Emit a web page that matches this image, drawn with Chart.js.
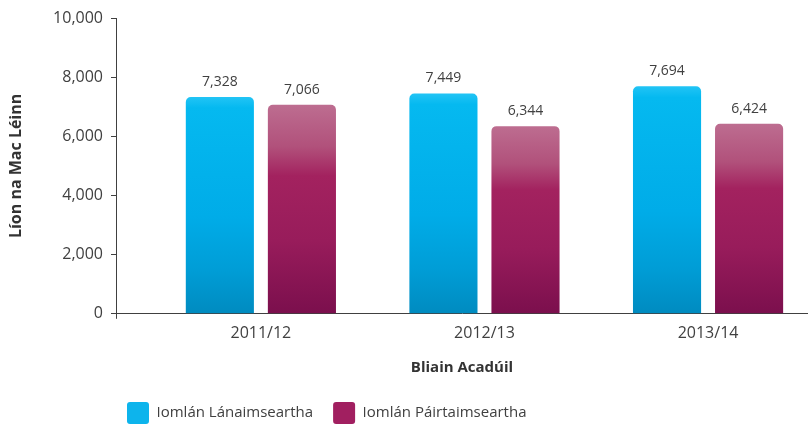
<!DOCTYPE html>
<html>
<head>
<meta charset="utf-8">
<script src="https://cdn.jsdelivr.net/npm/chart.js@4"></script>
<style>
  html, body { margin: 0; padding: 0; background: #fff; }
  #wrap { width: 808px; height: 425px; }
</style>
</head>
<body>
<div id="wrap"><canvas id="chart" width="808" height="425"></canvas></div>
<script>
// Data
const years = ["2011/12", "2012/13", "2013/14"];
const fullTime = [7328, 7449, 7694];
const partTime = [7066, 6344, 6424];
const seriesNames = ["Iomlán Lánaimseartha", "Iomlán Páirtaimseartha"];
const yMax = 10000;
const yStep = 2000;

const FONT = "'Open Sans', 'Noto Sans', sans-serif";
const TEXT = "#404040";
const solids = ["#0db4ec", "#a11f60"];

// vertical gradient per bar, made from the y scale
function barFill(stops, solid) {
    return function (ctx) {
        if (ctx.type !== "data") return solid;
        const y = ctx.chart.scales.y;
        if (!y) return solid;
        const top = y.getPixelForValue(ctx.raw.y);
        const bottom = y.getPixelForValue(0);
        const g = ctx.chart.ctx.createLinearGradient(0, top, 0, bottom);
        stops.forEach(s => g.addColorStop(s[0], s[1]));
        return g;
    };
}

const blueStops = [[0, "#22c4f5"], [0.05, "#05b9f0"], [0.55, "#00ace8"], [0.8, "#009dd6"], [1, "#008bc0"]];
const purpleStops = [[0, "#bd6d90"], [0.2, "#b1517b"], [0.34, "#a3225f"], [0.65, "#981c5b"], [1, "#7b0f4d"]];

// value labels above bars, plus the small tick under the origin
const valueLabels = {
    id: "valueLabels",
    afterDatasetsDraw(chart) {
        const c = chart.ctx;
        const area = chart.chartArea;
        c.save();
        c.strokeStyle = TEXT;
        c.lineWidth = 1;
        c.beginPath();
        c.moveTo(area.left + 0.5, area.bottom);
        c.lineTo(area.left + 0.5, area.bottom + 5);
        c.stroke();
        c.font = "14px " + FONT;
        c.fillStyle = TEXT;
        c.textAlign = "center";
        c.textBaseline = "middle";
        chart.data.datasets.forEach((ds, i) => {
            chart.getDatasetMeta(i).data.forEach((bar, j) => {
                c.fillText(ds.data[j].y.toLocaleString("en-US"), bar.x, bar.y - 15);
            });
        });
        c.restore();
    }
};

// put the legend under the plot where the original has it
const legendPlace = {
    id: "legendPlace",
    afterLayout(chart) {
        const lg = chart.legend;
        lg.left = 107;
        lg.right = 808;
        lg.top = 382;
        lg.bottom = 382 + lg.height;
    }
};

new Chart(document.getElementById("chart"), {
    type: "bar",
    data: {
        datasets: [
            {
                label: seriesNames[0],
                data: fullTime.map((v, i) => ({ x: i, y: v })),
                backgroundColor: barFill(blueStops, solids[0]),
                borderRadius: 5,
                borderSkipped: "start",
                categoryPercentage: 0.734,
                barPercentage: 0.83
            },
            {
                label: seriesNames[1],
                data: partTime.map((v, i) => ({ x: i, y: v })),
                backgroundColor: barFill(purpleStops, solids[1]),
                borderRadius: 5,
                borderSkipped: "start",
                categoryPercentage: 0.734,
                barPercentage: 0.83
            }
        ]
    },
    plugins: [valueLabels, legendPlace],
    options: {
        responsive: false,
        animation: false,
        events: [],
        layout: { padding: { top: 18, right: 0, bottom: 0, left: 0 } },
        scales: {
            x: {
                type: "linear",
                min: -0.648,
                max: 2.447,
                offset: false,
                grid: {
                    offset: false,
                    drawOnChartArea: false,
                    drawTicks: true,
                    tickLength: 5,
                    tickColor: "rgba(0,0,0,0)"
                },
                border: { display: true, color: TEXT, width: 1 },
                ticks: {
                    stepSize: 1,
                    includeBounds: false,
                    autoSkip: false,
                    maxRotation: 0,
                    padding: 5,
                    color: TEXT,
                    font: { family: FONT, size: 16 },
                    callback: (v) => Number.isInteger(v) && years[v] ? years[v] : ""
                },
                title: {
                    display: true,
                    text: "Bliain Acadúil",
                    color: "#333",
                    font: { family: FONT, size: 15, weight: "bold" },
                    padding: { top: 11, bottom: -4 }
                }
            },
            y: {
                min: 0,
                max: yMax,
                afterFit: (scale) => { scale.width = 116; },
                grid: { drawOnChartArea: false, drawTicks: true, tickLength: 5, tickColor: TEXT },
                border: { display: true, color: TEXT, width: 1 },
                ticks: {
                    stepSize: yStep,
                    padding: 8,
                    color: TEXT,
                    font: { family: FONT, size: 16 },
                    callback: (v) => v.toLocaleString("en-US")
                },
                title: {
                    display: true,
                    text: "Líon na Mac Léinn",
                    color: "#333",
                    font: { family: FONT, size: 16, weight: "bold" },
                    padding: { top: 7, bottom: 0 }
                }
            }
        },
        plugins: {
            tooltip: { enabled: false },
            legend: {
                position: "bottom",
                align: "start",
                fullSize: false,
                labels: {
                    boxWidth: 22,
                    boxHeight: 22,
                    padding: 20,
                    useBorderRadius: true,
                    borderRadius: 3,
                    color: TEXT,
                    font: { family: FONT, size: 15 },
                    generateLabels: (chart) => {
                        const items = Chart.defaults.plugins.legend.labels.generateLabels(chart);
                        items.forEach((it, i) => { it.fillStyle = solids[i]; it.lineWidth = 0; });
                        return items;
                    }
                }
            }
        }
    }
});
</script>
</body>
</html>
